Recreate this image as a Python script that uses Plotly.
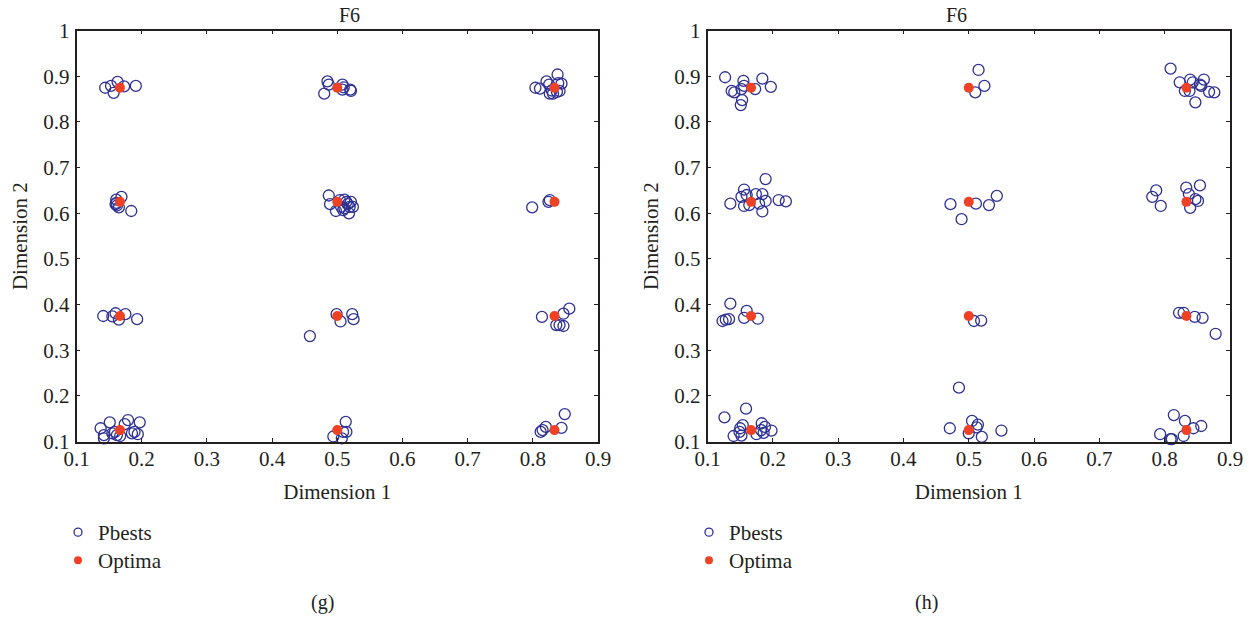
import plotly.graph_objects as go

# ---------------- data ----------------
optima_x = [0.1667, 0.5, 0.8333, 0.1667, 0.5, 0.8333, 0.1667, 0.5, 0.8333, 0.1667, 0.5, 0.8333]
optima_y = [0.875, 0.875, 0.875, 0.625, 0.625, 0.625, 0.375, 0.375, 0.375, 0.125, 0.125, 0.125]

g_pbest_x = [
    0.144, 0.153, 0.157, 0.163, 0.173, 0.191,
    0.480, 0.485, 0.487, 0.508, 0.510, 0.508, 0.520, 0.521,
    0.804, 0.811, 0.821, 0.825, 0.829, 0.831, 0.837, 0.839, 0.844, 0.838, 0.841, 0.826,
    0.161, 0.169, 0.161, 0.162, 0.165, 0.160, 0.184,
    0.487, 0.489, 0.498, 0.506, 0.511, 0.514, 0.516, 0.519, 0.518, 0.509, 0.521, 0.524, 0.504, 0.511,
    0.799, 0.824, 0.826,
    0.141, 0.155, 0.160, 0.165, 0.175, 0.193,
    0.499, 0.505, 0.523, 0.525, 0.458,
    0.814, 0.847, 0.856, 0.836, 0.841, 0.847,
    0.137, 0.142, 0.142, 0.151, 0.155, 0.159, 0.162, 0.167, 0.174, 0.179, 0.185, 0.189, 0.194, 0.197,
    0.494, 0.507, 0.509, 0.514, 0.513,
    0.812, 0.815, 0.820, 0.844, 0.849,
]
g_pbest_y = [
    0.875, 0.879, 0.864, 0.888, 0.878, 0.879,
    0.862, 0.889, 0.882, 0.882, 0.876, 0.871, 0.871, 0.868,
    0.875, 0.873, 0.889, 0.882, 0.869, 0.862, 0.866, 0.885, 0.884, 0.904, 0.868, 0.862,
    0.630, 0.636, 0.623, 0.617, 0.613, 0.620, 0.605,
    0.639, 0.620, 0.605, 0.614, 0.630, 0.625, 0.620, 0.614, 0.600, 0.607, 0.625, 0.614, 0.629, 0.611,
    0.613, 0.625, 0.629,
    0.375, 0.374, 0.381, 0.367, 0.379, 0.368,
    0.379, 0.363, 0.379, 0.368, 0.331,
    0.373, 0.380, 0.391, 0.355, 0.355, 0.353,
    0.129, 0.114, 0.107, 0.142, 0.118, 0.121, 0.114, 0.112, 0.138, 0.147, 0.118, 0.121, 0.116, 0.142,
    0.111, 0.107, 0.121, 0.121, 0.143,
    0.121, 0.125, 0.132, 0.130, 0.160,
]

h_pbest_x = [
    0.127, 0.137, 0.141, 0.152, 0.155, 0.156, 0.153, 0.151, 0.173, 0.184, 0.197,
    0.515, 0.524, 0.510,
    0.809, 0.823, 0.831, 0.838, 0.839, 0.843, 0.854, 0.856, 0.860, 0.868, 0.876, 0.847,
    0.135, 0.152, 0.156, 0.160, 0.156, 0.164, 0.174, 0.179, 0.184, 0.189, 0.184, 0.189, 0.209, 0.220,
    0.472, 0.489, 0.511, 0.531, 0.543,
    0.781, 0.787, 0.794, 0.833, 0.837, 0.854, 0.847, 0.851, 0.839,
    0.123, 0.128, 0.133, 0.135, 0.156, 0.160, 0.177,
    0.508, 0.519,
    0.822, 0.829, 0.846, 0.858, 0.878,
    0.126, 0.159, 0.140, 0.149, 0.152, 0.154, 0.175, 0.183, 0.188, 0.186, 0.198, 0.182, 0.150,
    0.471, 0.485, 0.505, 0.514, 0.512, 0.520, 0.550, 0.500,
    0.793, 0.809, 0.811, 0.814, 0.831, 0.829, 0.844, 0.856,
]
h_pbest_y = [
    0.898, 0.868, 0.865, 0.872, 0.890, 0.879, 0.848, 0.837, 0.872, 0.895, 0.877,
    0.914, 0.879, 0.865,
    0.917, 0.887, 0.868, 0.868, 0.893, 0.887, 0.882, 0.879, 0.893, 0.866, 0.865, 0.843,
    0.621, 0.636, 0.652, 0.640, 0.616, 0.618, 0.642, 0.621, 0.642, 0.627, 0.604, 0.675, 0.629, 0.626,
    0.620, 0.587, 0.621, 0.618, 0.638,
    0.636, 0.650, 0.616, 0.656, 0.642, 0.661, 0.631, 0.627, 0.612,
    0.364, 0.367, 0.368, 0.402, 0.371, 0.386, 0.369,
    0.364, 0.365,
    0.382, 0.382, 0.373, 0.371, 0.336,
    0.153, 0.172, 0.112, 0.121, 0.113, 0.136, 0.116, 0.140, 0.132, 0.119, 0.124, 0.125, 0.129,
    0.129, 0.218, 0.145, 0.137, 0.131, 0.110, 0.124, 0.118,
    0.116, 0.105, 0.105, 0.158, 0.145, 0.112, 0.129, 0.134,
]

tick_vals_x = [0.1, 0.2, 0.3, 0.4, 0.5, 0.6, 0.7, 0.8, 0.9]
tick_text_x = ["0.1", "0.2", "0.3", "0.4", "0.5", "0.6", "0.7", "0.8", "0.9"]
tick_vals_y = [0.1, 0.2, 0.3, 0.4, 0.5, 0.6, 0.7, 0.8, 0.9, 1.0]
tick_text_y = ["0.1", "0.2", "0.3", "0.4", "0.5", "0.6", "0.7", "0.8", "0.9", "1"]

# ---------------- styling ----------------
FONT = "Liberation Serif"
TXT = "#231f20"
BLUE = "#2e3192"
RED = "#ef4123"
W, H = 1253, 618

fig = go.Figure()

panels = [("x", "y", g_pbest_x, g_pbest_y, "legend", "legend2"),
          ("x2", "y2", h_pbest_x, h_pbest_y, "legend3", "legend4")]
for xa, ya, px, py, lg_a, lg_b in panels:
    fig.add_trace(go.Scatter(x=px, y=py, xaxis=xa, yaxis=ya, mode="markers",
                             marker=dict(symbol="circle-open", size=11, color=BLUE,
                                         line=dict(width=1.3, color=BLUE)),
                             showlegend=False, cliponaxis=False, hoverinfo="x+y"))
    fig.add_trace(go.Scatter(x=optima_x, y=optima_y, xaxis=xa, yaxis=ya, mode="markers",
                             marker=dict(symbol="circle", size=10, color=RED),
                             showlegend=False, cliponaxis=False, hoverinfo="x+y"))
    # legend entries (smaller symbols, as in the reference)
    fig.add_trace(go.Scatter(x=[None], y=[None], xaxis=xa, yaxis=ya, mode="markers", name="Pbests",
                             marker=dict(symbol="circle-open", size=8, color=BLUE,
                                         line=dict(width=1.3, color=BLUE)), legend=lg_a))
    fig.add_trace(go.Scatter(x=[None], y=[None], xaxis=xa, yaxis=ya, mode="markers", name="Optima",
                             marker=dict(symbol="circle", size=8, color=RED), legend=lg_b))

left_dom = [76.5 / W, 598 / W]
right_dom = [707.5 / W, 1230 / W]
y_dom = [(H - 441.5) / H, (H - 30.7) / H]

def xax(dom, anchor):
    return dict(domain=dom, anchor=anchor, range=[0.1, 0.9], tickvals=tick_vals_x, ticktext=tick_text_x,
                automargin=False,
                showgrid=False, zeroline=False, showline=True, linecolor="#231f20", linewidth=1.5,
                mirror="ticks", ticks="inside", ticklen=4, tickwidth=1.2, tickcolor="#231f20",
                tickfont=dict(family=FONT, size=21, color=TXT), ticklabelstandoff=-2,
                title=dict(text="Dimension 1", font=dict(family=FONT, size=21, color=TXT), standoff=14))

def yax(anchor):
    return dict(domain=y_dom, anchor=anchor, range=[0.1, 1.0], tickvals=tick_vals_y, ticktext=tick_text_y,
                automargin=False,
                showgrid=False, zeroline=False, showline=True, linecolor="#231f20", linewidth=1.5,
                mirror="ticks", ticks="inside", ticklen=4, tickwidth=1.2, tickcolor="#231f20",
                tickfont=dict(family=FONT, size=21, color=TXT), ticklabelstandoff=1,
                title=dict(text="Dimension 2", font=dict(family=FONT, size=21, color=TXT), standoff=10))

legend_style = dict(font=dict(family=FONT, size=21, color=TXT), bgcolor="rgba(0,0,0,0)",
                    xanchor="left", yanchor="top", itemclick=False, itemdoubleclick=False)

fig.update_layout(
    width=W, height=H, margin=dict(l=0, r=0, t=0, b=0),
    paper_bgcolor="white", plot_bgcolor="white",
    xaxis=xax(left_dom, "y"), yaxis=yax("x"),
    xaxis2=xax(right_dom, "y2"), yaxis2=yax("x2"),
    legend=dict(x=58 / W, y=(H - 512) / H, **legend_style),
    legend2=dict(x=58 / W, y=(H - 540) / H, **legend_style),
    legend3=dict(x=689 / W, y=(H - 512) / H, **legend_style),
    legend4=dict(x=689 / W, y=(H - 540) / H, **legend_style),
    annotations=[
        dict(text="F6", x=(left_dom[0] + left_dom[1]) / 2, y=(H - 15) / H, xref="paper", yref="paper",
             yanchor="middle", showarrow=False, font=dict(family=FONT, size=20, color=TXT)),
        dict(text="F6", x=(right_dom[0] + right_dom[1]) / 2, y=(H - 15) / H, xref="paper", yref="paper",
             yanchor="middle", showarrow=False, font=dict(family=FONT, size=20, color=TXT)),
        dict(text="(g)", x=309 / W, y=(H - 602) / H, xref="paper", yref="paper",
             yanchor="middle", showarrow=False, font=dict(family=FONT, size=20, color=TXT)),
        dict(text="(h)", x=940 / W, y=(H - 602) / H, xref="paper", yref="paper",
             yanchor="middle", showarrow=False, font=dict(family=FONT, size=20, color=TXT)),
    ],
)

fig.write_html("out.html", config={"displayModeBar": False},
               post_script="document.body.style.margin='0';")
